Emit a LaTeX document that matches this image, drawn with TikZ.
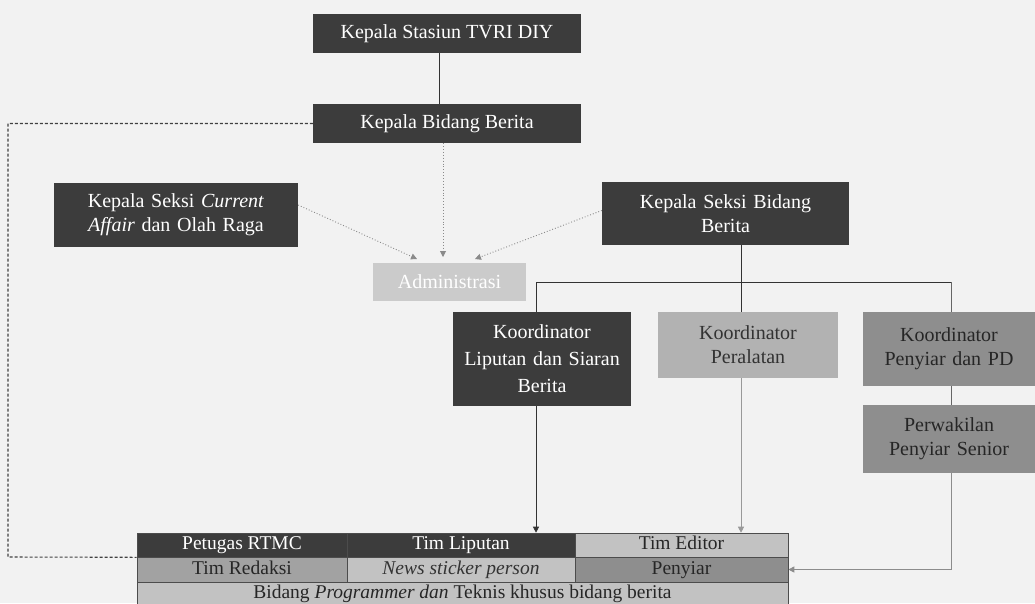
\documentclass[tikz,border=0pt]{standalone}
\usepackage{fontspec}
\setmainfont{Liberation Serif}
\usetikzlibrary{arrows.meta,backgrounds}
\definecolor{darkbox}{HTML}{3C3C3C}
\definecolor{lightbox}{HTML}{C2C2C2}
\definecolor{midbox}{HTML}{A2A2A2}
\definecolor{penbox}{HTML}{8E8E8E}
\definecolor{bgc}{HTML}{F2F2F2}
\definecolor{dotc}{HTML}{8A8A8A}
\tikzset{
  box/.style={rectangle, inner sep=0pt, align=center, font=\fontsize{20}{24}\selectfont},
  darkb/.style={box, fill=darkbox, text=white},
  adminb/.style={box, fill=lightbox!85!white, text=white},
  grayb/.style={box, fill=lightbox!92!black, text=black!80},
  penb/.style={box, fill=penbox, text=black!85},
  cell/.style={rectangle, inner sep=0pt, draw=black!70, line width=0.6pt, text height=13pt, text depth=4pt, font=\fontsize{19.5}{22}\selectfont},
  solidline/.style={draw=black!80, line width=0.8pt},
  dotline/.style={draw=dotc, line width=0.9pt, dotted},
  dashline/.style={draw=black!75, line width=1.1pt, dash pattern=on 3pt off 2pt},
  tip/.style={-{Triangle[width=6pt,length=6pt]}}
}
\begin{document}
\begin{tikzpicture}[x=1pt,y=-1pt]
\useasboundingbox (0,0) rectangle (1035,603);

% top boxes
\node[darkb, minimum width=268pt, minimum height=39pt] (ks) at (447,33.5) {Kepala Stasiun TVRI DIY};
\node[darkb, minimum width=268pt, minimum height=39pt] (kb) at (447,123.5) {Kepala Bidang Berita};
\node[darkb, minimum width=244pt, minimum height=64pt, text width=236pt] (ca) at (176,215) {Kepala Seksi \textit{Current}\\\textit{Affair} dan Olah Raga};
\node[darkb, minimum width=247pt, minimum height=63pt, text width=240pt] (ksb) at (725.5,213.5) {Kepala Seksi Bidang\\Berita};
\node[adminb, minimum width=153pt, minimum height=38pt] (adm) at (449.5,282) {Administrasi};

% coordinators
\node[darkb, minimum width=178pt, minimum height=94pt, text width=172pt, font=\fontsize{20}{27}\selectfont] (kl) at (542,359) {Koordinator\\Liputan dan Siaran\\Berita};
\node[grayb, minimum width=180pt, minimum height=66pt, text width=174pt] (kp) at (748,345) {Koordinator\\Peralatan};
\node[penb, minimum width=172pt, minimum height=74pt, text width=166pt] (kpd) at (949,349) {Koordinator\\Penyiar dan PD};
\node[penb, minimum width=172pt, minimum height=68pt, text width=166pt] (pw) at (949,439) {Perwakilan\\Penyiar Senior};

% table
\node[cell, fill=darkbox, text=white, minimum width=210pt, minimum height=24pt] (pet) at (242,545) {Petugas RTMC};
\node[cell, fill=darkbox, text=white, minimum width=228pt, minimum height=24pt] (lip) at (461,545) {Tim Liputan};
\node[cell, fill=lightbox, text=black!85, minimum width=213pt, minimum height=24pt] (edi) at (681.5,545) {Tim Editor};
\node[cell, fill=midbox, text=black!85, minimum width=210pt, minimum height=25pt] (red) at (242,569.5) {Tim Redaksi};
\node[cell, fill=lightbox, text=black!80, minimum width=228pt, minimum height=25pt] (news) at (461,569.5) {\textit{News sticker person}};
\node[cell, fill=penbox, text=black!85, minimum width=213pt, minimum height=25pt] (pen) at (681.5,569.5) {Penyiar};
\node[cell, fill=lightbox, text=black!85, minimum width=651pt, minimum height=23pt] (bid) at (462.5,593.5) {Bidang \textit{Programmer dan} Teknis khusus bidang berita};

% coordinates
\coordinate (b1) at (536,282);
\coordinate (b2) at (741,282);
\coordinate (b3) at (951,282);
\coordinate (dl) at (8,557);
\coordinate (a1) at (417,259);
\coordinate (a2) at (443,257);
\coordinate (a3) at (475,259);

\begin{scope}[on background layer]
\fill[bgc] (0,0) rectangle (1035,603);
\draw[solidline] ([xshift=-8pt]ks.south) -- ([xshift=-8pt]kb.north);
\draw[solidline] (ksb.south -| b2) -- (b2);
\draw[solidline] (b1) -- (b3);
\draw[solidline, tip] (b1) -- (b1 |- lip.north);
\draw[solidline] (b2) -- (b2 |- kp.north);
\draw[solidline, draw=black!60] (b3) -- (b3 |- kpd.north);
\draw[solidline, draw=black!60] (kpd.south -| b3) -- (pw.north -| b3);
\draw[draw=black!45, line width=0.7pt, tip] (pw.south -| b3) |- (pen.east);
\draw[draw=black!40, line width=0.7pt, tip] (kp.south -| b2) -- (b2 |- edi.north);
\draw[dashline] (kb.west) -| (dl) -- (pet.south west);
\draw[dotline, tip] ([yshift=10pt]ca.east) -- (a1);
\draw[dotline, tip] (kb.south -| a2) -- (a2);
\draw[dotline, tip] ([yshift=3pt]ksb.west) -- (a3);
\end{scope}
\end{tikzpicture}
\end{document}
